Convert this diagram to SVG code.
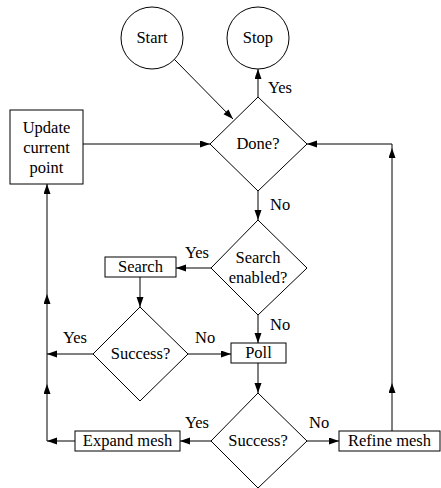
<svg xmlns="http://www.w3.org/2000/svg" width="441" height="488" viewBox="0 0 441 488">
<style>
.s{fill:#fff;stroke:#000;stroke-width:1}
.c{fill:none;stroke:#000;stroke-width:1}
.a{marker-end:url(#ah)}
text{font-family:"Liberation Serif","Times New Roman",serif;font-size:16.5px;fill:#000}
.m{text-anchor:middle}
</style>
<defs>
<marker id="ah" markerWidth="10" markerHeight="8" refX="10" refY="3.5" orient="auto" markerUnits="userSpaceOnUse">
<path d="M0,0 L10,3.5 L0,7 z" fill="#000"/>
</marker>
</defs>
<g id="connectors">
<path class="c a" d="M174,59 L233,119"/>
<path class="c a" d="M258,97 L258,69"/>
<path class="c a" d="M83,144 L210,144"/>
<path class="c a" d="M258,191 L258,220"/>
<path class="c a" d="M211,268 L176,268"/>
<path class="c a" d="M258,315 L258,343"/>
<path class="c a" d="M140,277 L140,307"/>
<path class="c a" d="M93,354 L47,354"/>
<path class="c a" d="M188,354 L231,354"/>
<path class="c a" d="M258,363 L258,393"/>
<path class="c a" d="M211,441 L180,441"/>
<path class="c a" d="M307,441 L339,441"/>
<path class="c a" d="M75,441 L47,441"/>
<path class="c a" d="M47,441 L47,384"/>
<path class="c a" d="M47,384 L47,294"/>
<path class="c a" d="M47,294 L47,184"/>
<path class="c a" d="M392,431 L392,383"/>
<path class="c a" d="M392,383 L392,148"/>
<path class="c a" d="M392,148 L392,144 L307,144"/>
</g>
<g id="start"><circle class="s" cx="152" cy="38" r="31"/><text class="m" x="152" y="43">Start</text></g>
<g id="stop"><circle class="s" cx="258" cy="38" r="31"/><text class="m" x="258" y="43">Stop</text></g>
<g id="done"><polygon class="s" points="258,97 307,144 258,191 210,144"/><text class="m" x="258" y="149">Done?</text></g>
<g id="update"><rect class="s" x="10" y="110" width="73" height="74"/><text class="m" x="46.5" y="133">Update</text><text class="m" x="46.5" y="153">current</text><text class="m" x="46.5" y="173">point</text></g>
<g id="searchenabled"><polygon class="s" points="258,220 307,268 258,315 211,268"/><text class="m" x="258" y="263">Search</text><text class="m" x="258" y="283">enabled?</text></g>
<g id="search"><rect class="s" x="105" y="257" width="71" height="20"/><text class="m" x="140.5" y="272">Search</text></g>
<g id="success1"><polygon class="s" points="140,307 188,354 140,401 93,354"/><text class="m" x="140.5" y="359">Success?</text></g>
<g id="poll"><rect class="s" x="231" y="343" width="55" height="20"/><text class="m" x="258.5" y="358">Poll</text></g>
<g id="success2"><polygon class="s" points="258,393 307,441 258,488 211,441"/><text class="m" x="258" y="446">Success?</text></g>
<g id="expand"><rect class="s" x="75" y="431" width="105" height="20"/><text class="m" x="127.5" y="446">Expand mesh</text></g>
<g id="refine"><rect class="s" x="339" y="431" width="101" height="20"/><text class="m" x="389.5" y="446">Refine mesh</text></g>
<g id="labels">
<text x="268" y="93">Yes</text>
<text x="270" y="210">No</text>
<text x="185" y="258">Yes</text>
<text x="270" y="330">No</text>
<text x="63" y="343">Yes</text>
<text x="195" y="343">No</text>
<text x="185" y="428">Yes</text>
<text x="309" y="428">No</text>
</g>
</svg>
